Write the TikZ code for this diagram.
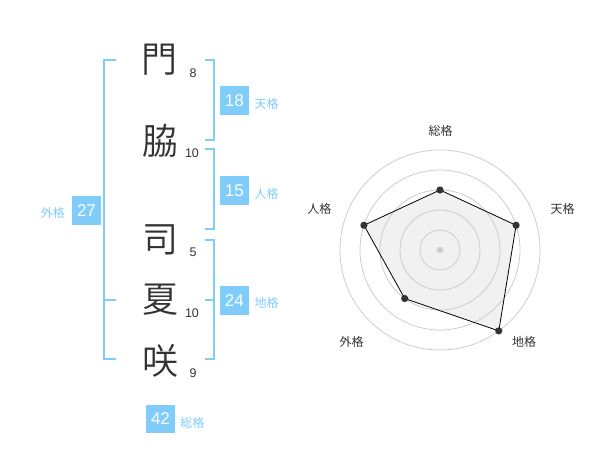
\documentclass[tikz,border=0pt]{standalone}
\usepackage{fontspec}
\setmainfont{Liberation Sans}
\IfFontExistsTF{Noto Sans CJK JP DemiLight}
  {\newfontfamily\jpthin{Noto Sans CJK JP DemiLight}}
  {\IfFontExistsTF{Noto Sans CJK JP Light}
    {\newfontfamily\jpthin{Noto Sans CJK JP Light}}
    {\newfontfamily\jpthin{Noto Sans CJK JP}}}
\newfontfamily\jpfont{Noto Sans CJK JP}
\usetikzlibrary{positioning}
\definecolor{kakublue}{RGB}{128,204,250}
\definecolor{inkgray}{RGB}{51,51,51}
\definecolor{ringgray}{RGB}{204,204,204}
\definecolor{areagray}{RGB}{241,241,241}
\tikzset{
  kanji/.style={text=inkgray, font=\jpthin\fontsize{36}{36}\selectfont, inner sep=0pt},
  strokes/.style={text=inkgray, font=\fontsize{12.5}{14}\selectfont, inner sep=0pt},
  kakubox/.style={fill=kakublue, text=white, minimum size=28.7pt, inner sep=0pt, font=\fontsize{17}{18}\selectfont},
  kakulabel/.style={text=kakublue, font=\jpfont\fontsize{12}{14}\selectfont, inner sep=0pt},
  axislabel/.style={text=inkgray, font=\jpfont\fontsize{12}{14}\selectfont, inner sep=0pt},
  bracket/.style={draw=kakublue, line width=2pt}
}
\begin{document}
\begin{tikzpicture}[x=1pt, y=1pt]
        \useasboundingbox (0,0) rectangle (600,-470);
        %\draw[help lines, step=50] (0,0) grid (600,-470);

        \node[kanji] (k1) at (159,-60){門};
        \node[kanji] (k2) at (160,-141){脇};
        \node[kanji] (k3) at (160,-240){司};
        \node[kanji] (k4) at (160,-300){夏};
        \node[kanji] (k5) at (160,-361){咲};

        \node[strokes] (n1) at (193,-73){8};
        \node[strokes] (n2) at (192,-153){10};
        \node[strokes] (n3) at (193,-252){5};
        \node[strokes] (n4) at (192,-313){10};
        \node[strokes] (n5) at (193,-373){9};

        \draw[bracket] (116,-60)--(104,-60)--(104,-359)--(116,-359);
        \draw[bracket] (104,-300)--(116,-300);
        \draw[bracket] (205,-60)--(214,-60)--(214,-140)--(205,-140);
        \draw[bracket] (205,-149)--(214,-149)--(214,-229)--(205,-229);
        \draw[bracket] (205,-240)--(214,-240)--(214,-359)--(205,-359);
        \draw[bracket] (205,-300)--(214,-300);

        \node[kakubox] (box27) at (86.5,-210.3){27};
        \node[kakulabel, left=7pt of box27, yshift=-3pt] (lblGai){外格};
        \node[kakubox] (box18) at (234.3,-100.3){18};
        \node[kakulabel, right=5.5pt of box18, yshift=-3.5pt] (lblTen){天格};
        \node[kakubox] (box15) at (234.3,-190.3){15};
        \node[kakulabel, right=5.5pt of box15, yshift=-3.5pt] (lblJin){人格};
        \node[kakubox] (box24) at (234.3,-300.3){24};
        \node[kakulabel, right=5.5pt of box24, yshift=-3pt] (lblChi){地格};
        \node[kakubox] (box42) at (160.5,-419){42};
        \node[kakulabel, right=5pt of box42, yshift=-3.5pt] (lblSo){総格};

        \begin{scope}[shift={(440,-250)}]
        \coordinate (pSo) at (90:60);
        \coordinate (pTen) at (18:80);
        \coordinate (pChi) at (-54:100);
        \coordinate (pGai) at (-126:60);
        \coordinate (pJin) at (162:80);
        \fill[areagray] (pSo)--(pTen)--(pChi)--(pGai)--(pJin)--cycle;
        \foreach \r in {20,40,...,100}
            \draw[ringgray, line width=0.8pt] (0,0) circle (\r);
        \draw[black, line width=0.8pt] (pSo)--(pTen)--(pChi)--(pGai)--(pJin)--cycle;
        \foreach \p in {pSo,pTen,pChi,pGai,pJin}
            \fill[inkgray] (\p) circle (3.6);
        \fill[ringgray] (0,0) circle (3.2);

        \node[axislabel] (axSo) at (0.7,119.3){総格};
        \node[axislabel] (axTen) at (122.7,41.3){天格};
        \node[axislabel] (axJin) at (-120.7,41.3){人格};
        \node[axislabel] (axGai) at (-88.3,-91.7){外格};
        \node[axislabel] (axChi) at (84,-91.7){地格};
        \end{scope}
\end{tikzpicture}
\end{document}
